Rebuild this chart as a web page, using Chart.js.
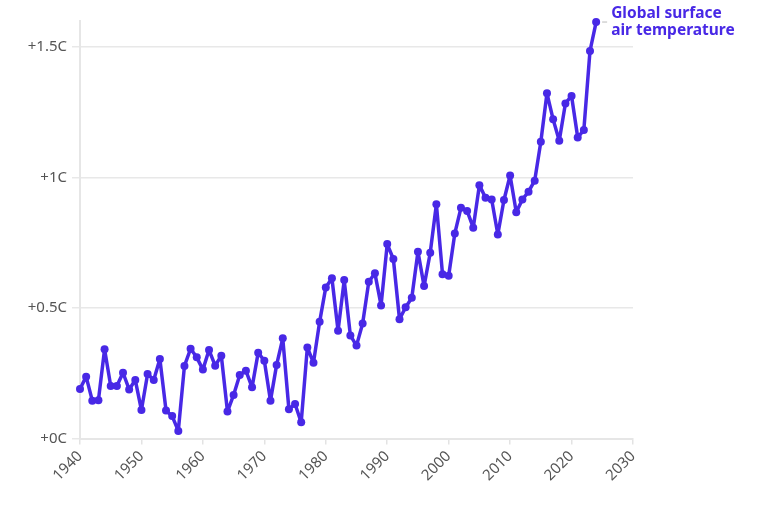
<!DOCTYPE html>
<html>
<head>
<meta charset="utf-8">
<script src="https://cdn.jsdelivr.net/npm/chart.js@4/dist/chart.umd.min.js"></script>
<style>
  html, body { margin: 0; padding: 0; background: #fff; }
  #wrap { width: 780px; height: 512px; }
</style>
</head>
<body>
<div id="wrap"><canvas id="tempChart"></canvas></div>
<script>
// years on the x axis
const years = [
  1940, 1941, 1942, 1943, 1944, 1945, 1946, 1947, 1948, 1949,
  1950, 1951, 1952, 1953, 1954, 1955, 1956, 1957, 1958, 1959,
  1960, 1961, 1962, 1963, 1964, 1965, 1966, 1967, 1968, 1969,
  1970, 1971, 1972, 1973, 1974, 1975, 1976, 1977, 1978, 1979,
  1980, 1981, 1982, 1983, 1984, 1985, 1986, 1987, 1988, 1989,
  1990, 1991, 1992, 1993, 1994, 1995, 1996, 1997, 1998, 1999,
  2000, 2001, 2002, 2003, 2004, 2005, 2006, 2007, 2008, 2009,
  2010, 2011, 2012, 2013, 2014, 2015, 2016, 2017, 2018, 2019,
  2020, 2021, 2022, 2023, 2024
];

// anomaly in C
const anomaly = [
  0.19, 0.237, 0.145, 0.147, 0.342, 0.201, 0.201, 0.252, 0.188, 0.224,
  0.109, 0.247, 0.224, 0.305, 0.107, 0.086, 0.029, 0.278, 0.344, 0.311,
  0.264, 0.339, 0.279, 0.317, 0.103, 0.167, 0.243, 0.26, 0.196, 0.329,
  0.298, 0.145, 0.282, 0.384, 0.112, 0.132, 0.062, 0.349, 0.29, 0.447,
  0.579, 0.614, 0.413, 0.607, 0.395, 0.356, 0.441, 0.601, 0.633, 0.51,
  0.745, 0.688, 0.457, 0.503, 0.539, 0.716, 0.584, 0.712, 0.898, 0.629,
  0.624, 0.786, 0.884, 0.872, 0.808, 0.971, 0.923, 0.916, 0.782, 0.914,
  1.008, 0.867, 0.916, 0.946, 0.988, 1.137, 1.323, 1.223, 1.141, 1.284,
  1.313, 1.154, 1.182, 1.485, 1.596
];

const yTicks = [0, 0.5, 1, 1.5];
const seriesLabel = ['Global surface', 'air temperature'];

const purple = '#4828e6';
const tickFont = { family: '"Noto Sans", sans-serif', size: 15 };

// label next to the last point
const endLabel = {
  id: 'endLabel',
  afterDatasetsDraw(chart) {
    const meta = chart.getDatasetMeta(0);
    const pt = meta.data[meta.data.length - 1];
    const c = chart.ctx;
    c.save();
    c.strokeStyle = '#bbb';
    c.lineWidth = 1;
    c.beginPath();
    c.moveTo(pt.x + 6, pt.y);
    c.lineTo(pt.x + 11, pt.y);
    c.stroke();
    c.fillStyle = purple;
    c.font = 'bold 15.5px "Noto Sans", sans-serif';
    c.textBaseline = 'middle';
    c.textAlign = 'left';
    c.fillText(seriesLabel[0], pt.x + 15, pt.y - 8);
    c.fillText(seriesLabel[1], pt.x + 15, pt.y + 8.5);
    c.restore();
  }
};

const ctx = document.getElementById('tempChart').getContext('2d');
const tempChart = new Chart(ctx, {
  type: 'line',
  data: {
    datasets: [{
      label: seriesLabel.join(' '),
      data: years.map((yr, i) => ({ x: yr, y: anomaly[i] })),
      borderColor: purple,
      backgroundColor: purple,
      borderWidth: 3.5,
      borderJoinStyle: 'round',
      borderCapStyle: 'round',
      pointRadius: 4,
      pointBorderWidth: 0,
      tension: 0,
      clip: false
    }]
  },
  options: {
    responsive: true,
    maintainAspectRatio: false,
    animation: false,
    layout: { padding: { left: 0, right: 147, top: 21, bottom: 0 } },
    plugins: {
      legend: { display: false },
      tooltip: { enabled: false }
    },
    scales: {
      x: {
        type: 'linear',
        min: 1940,
        max: 2030,
        afterFit: s => { s.height = 73.5; },
        grid: { drawOnChartArea: false, drawTicks: true, tickLength: 6, color: '#e3e3e3', lineWidth: 1.5 },
        border: { display: true, color: '#e6e6e6', width: 2 },
        ticks: {
          stepSize: 10,
          minRotation: 45,
          maxRotation: 45,
          padding: 3,
          color: '#555',
          font: tickFont,
          callback: v => String(v)
        }
      },
      y: {
        min: 0,
        max: 1.6,
        afterFit: s => { s.width = 80; },
        afterBuildTicks: s => { s.ticks = yTicks.map(v => ({ value: v })); },
        grid: { color: '#e8e8e8', lineWidth: 1.5, tickLength: 8 },
        border: { display: true, color: '#e6e6e6', width: 2 },
        ticks: {
          padding: 5,
          color: '#555',
          font: tickFont,
          callback: v => '+' + v + 'C'
        }
      }
    }
  },
  plugins: [endLabel]
});
</script>
</body>
</html>
